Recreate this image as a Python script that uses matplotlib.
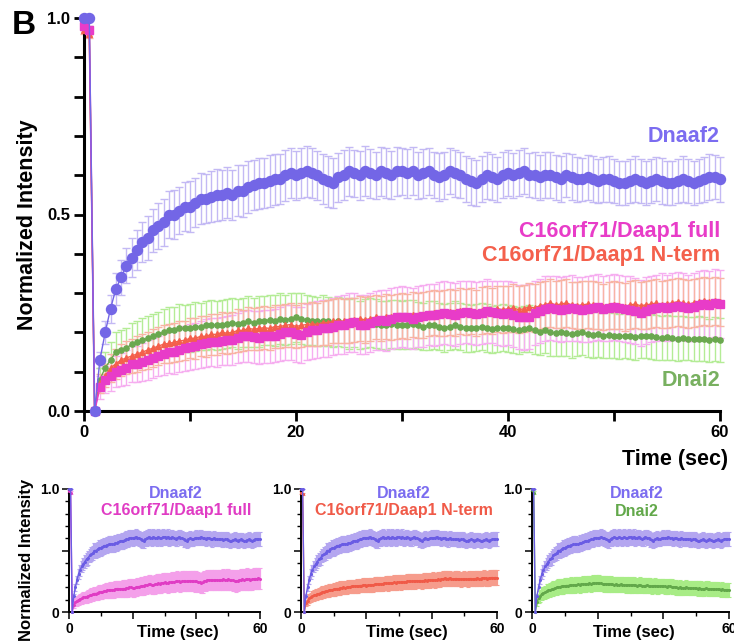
import numpy as np
import matplotlib
matplotlib.use("Agg")
import matplotlib.pyplot as plt
from matplotlib.ticker import FixedLocator

plt.rcParams['font.family'] = ['Liberation Sans', 'DejaVu Sans']
plt.rcParams['font.weight'] = 'bold'

# ---------------- data ----------------
time_sec = np.arange(0, 60.5, 0.5)   # frame times (s)

dnaaf2 = [
    1.00, 1.00, 0.00, 0.13, 0.20, 0.26, 0.31, 0.34, 0.37, 0.39,
    0.41, 0.43, 0.44, 0.46, 0.47, 0.48, 0.50, 0.50, 0.51, 0.52,
    0.52, 0.53, 0.54, 0.54, 0.545, 0.55, 0.55, 0.555, 0.55, 0.56,
    0.56, 0.57, 0.575, 0.58, 0.58, 0.585, 0.59, 0.59, 0.60, 0.605,
    0.60, 0.605, 0.61, 0.605, 0.60, 0.59, 0.585, 0.58, 0.595, 0.60,
    0.61, 0.605, 0.60, 0.61, 0.605, 0.60, 0.61, 0.605, 0.60, 0.61,
    0.61, 0.605, 0.61, 0.60, 0.605, 0.61, 0.60, 0.595, 0.60, 0.61,
    0.605, 0.60, 0.59, 0.585, 0.58, 0.59, 0.60, 0.595, 0.59, 0.60,
    0.605, 0.60, 0.605, 0.61, 0.60, 0.60, 0.595, 0.60, 0.60, 0.595,
    0.59, 0.60, 0.595, 0.59, 0.59, 0.595, 0.59, 0.585, 0.59, 0.59,
    0.585, 0.58, 0.58, 0.585, 0.59, 0.585, 0.58, 0.585, 0.59, 0.585,
    0.58, 0.58, 0.585, 0.59, 0.585, 0.58, 0.585, 0.59, 0.595, 0.595,
    0.59]
dnaaf2_err = [
    0.0, 0.0, 0.0, 0.02, 0.03, 0.035, 0.04, 0.045, 0.045, 0.05,
    0.05, 0.052, 0.055, 0.055, 0.058, 0.06, 0.06, 0.062, 0.06, 0.062,
    0.065, 0.063, 0.065, 0.062, 0.065, 0.066, 0.064, 0.065, 0.063, 0.065,
    0.066, 0.065, 0.063, 0.065, 0.064, 0.066, 0.065, 0.063, 0.065, 0.064,
    0.062, 0.064, 0.065, 0.063, 0.062, 0.064, 0.065, 0.063, 0.062, 0.064,
    0.062, 0.06, 0.062, 0.064, 0.062, 0.06, 0.062, 0.063, 0.061, 0.062,
    0.06, 0.062, 0.061, 0.06, 0.062, 0.06, 0.059, 0.061, 0.06, 0.058,
    0.06, 0.059, 0.058, 0.06, 0.059, 0.058, 0.06, 0.058, 0.057, 0.059,
    0.058, 0.057, 0.059, 0.058, 0.056, 0.058, 0.057, 0.059, 0.058, 0.057,
    0.058, 0.056, 0.058, 0.057, 0.055, 0.057, 0.058, 0.056, 0.057, 0.058,
    0.056, 0.057, 0.055, 0.057, 0.058, 0.056, 0.057, 0.055, 0.056, 0.058,
    0.057, 0.055, 0.057, 0.058, 0.056, 0.057, 0.055, 0.057, 0.058, 0.056,
    0.057]

daap1_full = [
    0.98, 0.97, 0.00, 0.06, 0.08, 0.09, 0.10, 0.105, 0.11, 0.12,
    0.12, 0.125, 0.13, 0.135, 0.14, 0.145, 0.15, 0.15, 0.155, 0.16,
    0.163, 0.165, 0.17, 0.173, 0.175, 0.175, 0.178, 0.18, 0.18, 0.185,
    0.19, 0.19, 0.188, 0.187, 0.19, 0.19, 0.192, 0.195, 0.20, 0.20,
    0.195, 0.193, 0.20, 0.205, 0.207, 0.21, 0.21, 0.215, 0.218, 0.22,
    0.225, 0.226, 0.22, 0.22, 0.225, 0.23, 0.232, 0.23, 0.235, 0.238,
    0.24, 0.238, 0.235, 0.24, 0.242, 0.245, 0.245, 0.248, 0.25, 0.248,
    0.245, 0.25, 0.252, 0.25, 0.248, 0.25, 0.255, 0.252, 0.25, 0.248,
    0.25, 0.245, 0.24, 0.238, 0.24, 0.25, 0.255, 0.26, 0.262, 0.26,
    0.258, 0.26, 0.262, 0.26, 0.258, 0.26, 0.262, 0.265, 0.26, 0.262,
    0.265, 0.262, 0.26, 0.258, 0.255, 0.25, 0.255, 0.26, 0.262, 0.265,
    0.262, 0.265, 0.268, 0.265, 0.262, 0.265, 0.27, 0.272, 0.27, 0.275,
    0.272]
daap1_full_err = [
    0.01, 0.01, 0.0, 0.03, 0.035, 0.038, 0.04, 0.042, 0.044, 0.045,
    0.046, 0.048, 0.05, 0.05, 0.052, 0.053, 0.054, 0.055, 0.056, 0.057,
    0.058, 0.058, 0.06, 0.06, 0.061, 0.062, 0.062, 0.063, 0.064, 0.064,
    0.065, 0.066, 0.066, 0.067, 0.067, 0.068, 0.068, 0.069, 0.07, 0.07,
    0.07, 0.071, 0.071, 0.072, 0.072, 0.072, 0.073, 0.073, 0.074, 0.074,
    0.074, 0.075, 0.075, 0.075, 0.076, 0.076, 0.076, 0.077, 0.077, 0.077,
    0.078, 0.078, 0.077, 0.078, 0.079, 0.078, 0.079, 0.079, 0.08, 0.079,
    0.08, 0.08, 0.079, 0.08, 0.081, 0.08, 0.081, 0.08, 0.081, 0.082,
    0.081, 0.082, 0.081, 0.082, 0.082, 0.081, 0.082, 0.083, 0.082, 0.083,
    0.082, 0.083, 0.083, 0.082, 0.083, 0.084, 0.083, 0.084, 0.083, 0.084,
    0.084, 0.083, 0.084, 0.085, 0.084, 0.084, 0.085, 0.084, 0.085, 0.085,
    0.084, 0.085, 0.086, 0.085, 0.085, 0.086, 0.085, 0.086, 0.085, 0.086,
    0.086]

daap1_nterm = [
    0.97, 0.96, 0.00, 0.07, 0.09, 0.11, 0.12, 0.13, 0.135, 0.14,
    0.145, 0.15, 0.155, 0.16, 0.165, 0.17, 0.172, 0.175, 0.178, 0.18,
    0.185, 0.185, 0.19, 0.19, 0.195, 0.195, 0.20, 0.198, 0.20, 0.205,
    0.205, 0.21, 0.208, 0.21, 0.212, 0.21, 0.215, 0.215, 0.218, 0.22,
    0.215, 0.218, 0.22, 0.222, 0.22, 0.225, 0.225, 0.228, 0.23, 0.228,
    0.23, 0.232, 0.235, 0.232, 0.235, 0.238, 0.235, 0.24, 0.238, 0.24,
    0.242, 0.24, 0.245, 0.243, 0.245, 0.248, 0.25, 0.248, 0.25, 0.252,
    0.25, 0.255, 0.252, 0.255, 0.25, 0.255, 0.258, 0.255, 0.26, 0.258,
    0.26, 0.262, 0.258, 0.26, 0.265, 0.262, 0.268, 0.27, 0.275, 0.27,
    0.272, 0.275, 0.27, 0.268, 0.27, 0.272, 0.27, 0.268, 0.265, 0.268,
    0.27, 0.268, 0.265, 0.27, 0.272, 0.268, 0.27, 0.272, 0.275, 0.27,
    0.272, 0.275, 0.278, 0.275, 0.272, 0.275, 0.278, 0.28, 0.278, 0.28,
    0.278]
daap1_nterm_err = [
    0.01, 0.01, 0.0, 0.025, 0.03, 0.035, 0.038, 0.04, 0.042, 0.044,
    0.045, 0.046, 0.047, 0.048, 0.048, 0.049, 0.05, 0.05, 0.051, 0.05,
    0.051, 0.052, 0.051, 0.052, 0.053, 0.052, 0.053, 0.052, 0.053, 0.054,
    0.053, 0.054, 0.053, 0.054, 0.055, 0.054, 0.055, 0.054, 0.055, 0.056,
    0.055, 0.056, 0.055, 0.056, 0.055, 0.056, 0.057, 0.056, 0.057, 0.056,
    0.057, 0.056, 0.057, 0.058, 0.057, 0.056, 0.057, 0.058, 0.057, 0.058,
    0.057, 0.058, 0.057, 0.058, 0.059, 0.058, 0.057, 0.058, 0.059, 0.058,
    0.059, 0.058, 0.059, 0.058, 0.059, 0.06, 0.059, 0.058, 0.059, 0.06,
    0.059, 0.06, 0.059, 0.06, 0.061, 0.06, 0.059, 0.06, 0.061, 0.06,
    0.061, 0.06, 0.059, 0.06, 0.061, 0.06, 0.061, 0.06, 0.059, 0.06,
    0.061, 0.06, 0.061, 0.062, 0.061, 0.06, 0.061, 0.062, 0.061, 0.06,
    0.061, 0.062, 0.061, 0.06, 0.061, 0.062, 0.061, 0.062, 0.061, 0.062,
    0.061]

dnai2 = [
    0.99, 0.97, 0.00, 0.08, 0.11, 0.13, 0.15, 0.155, 0.16, 0.17,
    0.175, 0.18, 0.185, 0.19, 0.195, 0.20, 0.205, 0.205, 0.21, 0.21,
    0.212, 0.215, 0.215, 0.218, 0.22, 0.218, 0.22, 0.222, 0.225, 0.222,
    0.225, 0.228, 0.225, 0.228, 0.23, 0.232, 0.23, 0.235, 0.232, 0.235,
    0.238, 0.235, 0.232, 0.23, 0.228, 0.23, 0.228, 0.225, 0.228, 0.225,
    0.222, 0.225, 0.22, 0.222, 0.225, 0.222, 0.22, 0.218, 0.222, 0.22,
    0.218, 0.22, 0.222, 0.218, 0.215, 0.218, 0.22, 0.215, 0.212, 0.215,
    0.218, 0.215, 0.212, 0.21, 0.212, 0.215, 0.21, 0.208, 0.21, 0.212,
    0.21, 0.208, 0.205, 0.208, 0.21, 0.205, 0.202, 0.205, 0.20, 0.198,
    0.20, 0.198, 0.195, 0.198, 0.20, 0.196, 0.194, 0.196, 0.192, 0.194,
    0.192, 0.19, 0.192, 0.19, 0.188, 0.19, 0.192, 0.19, 0.188, 0.186,
    0.188, 0.186, 0.184, 0.186, 0.184, 0.182, 0.184, 0.182, 0.18, 0.182,
    0.18]
dnai2_err = [
    0.01, 0.01, 0.0, 0.03, 0.04, 0.045, 0.05, 0.05, 0.052, 0.055,
    0.055, 0.056, 0.057, 0.058, 0.058, 0.059, 0.06, 0.06, 0.061, 0.06,
    0.061, 0.062, 0.061, 0.062, 0.063, 0.062, 0.063, 0.062, 0.063, 0.064,
    0.063, 0.064, 0.063, 0.064, 0.063, 0.064, 0.065, 0.064, 0.063, 0.064,
    0.063, 0.064, 0.063, 0.062, 0.063, 0.064, 0.063, 0.062, 0.063, 0.062,
    0.063, 0.062, 0.061, 0.062, 0.063, 0.062, 0.061, 0.062, 0.061, 0.062,
    0.061, 0.062, 0.061, 0.06, 0.061, 0.062, 0.061, 0.06, 0.061, 0.06,
    0.061, 0.06, 0.061, 0.06, 0.059, 0.06, 0.061, 0.06, 0.059, 0.06,
    0.059, 0.06, 0.059, 0.058, 0.059, 0.06, 0.059, 0.058, 0.059, 0.058,
    0.059, 0.058, 0.059, 0.058, 0.057, 0.058, 0.059, 0.058, 0.057, 0.058,
    0.057, 0.058, 0.057, 0.058, 0.057, 0.056, 0.057, 0.058, 0.057, 0.056,
    0.057, 0.056, 0.057, 0.056, 0.055, 0.056, 0.057, 0.056, 0.055, 0.056,
    0.056]

series_names = ["Dnaaf2", "C16orf71/Daap1 full", "C16orf71/Daap1 N-term", "Dnai2"]
main_yticks = [0.0, 0.1, 0.2, 0.3, 0.4, 0.5, 0.6, 0.7, 0.8, 0.9, 1.0]
main_yticklabels = ["0.0", "", "", "", "", "0.5", "", "", "", "", "1.0"]
main_xticks = [0, 10, 20, 30, 40, 50, 60]
main_xticklabels = ["0", "", "20", "", "40", "", "60"]
small_yticks_major = [0.0, 0.5, 1.0]
small_yticklabels = ["0", "", "1.0"]
small_yticks_minor = [0.1, 0.2, 0.3, 0.4, 0.6, 0.7, 0.8, 0.9]
small_xticks_major = [0, 20, 40, 60]
small_xticklabels = ["0", "", "", "60"]
small_xticks_minor = [10, 30, 50]

# ---------------- colours ----------------
C_BLUE, C_BLUE_L, C_BLUE_T = "#7366e6", "#c3b9f4", "#7b6cf0"
C_MAG, C_MAG_L = "#e83cc8", "#f6aef0"
C_RED, C_RED_L = "#f4604c", "#f8b4a4"
C_GRN, C_GRN_L, C_GRN_T = "#6aa84f", "#b4ec96", "#78b060"

W, H = 734, 643
fig = plt.figure(figsize=(W / 100, H / 100), dpi=100)


def fx(px):
    return px / W


def fy(py):
    return 1 - py / H


# ---------------- main panel ----------------
ax = fig.add_axes([fx(84), fy(411), (720 - 84) / W, (411 - 18) / H])

ax.errorbar(time_sec, dnaaf2, yerr=dnaaf2_err, fmt='none', ecolor=C_BLUE_L,
            elinewidth=1.0, capsize=3, capthick=1.0, zorder=2, clip_on=False)
ax.errorbar(time_sec, dnai2, yerr=dnai2_err, fmt='none', ecolor=C_GRN_L,
            elinewidth=1.0, capsize=3, capthick=1.0, zorder=2, clip_on=False)
ax.errorbar(time_sec, daap1_full, yerr=daap1_full_err, fmt='none', ecolor=C_MAG_L,
            elinewidth=1.0, capsize=3, capthick=1.0, zorder=2, clip_on=False)
ax.errorbar(time_sec, daap1_nterm, yerr=daap1_nterm_err, fmt='none', ecolor=C_RED_L,
            elinewidth=1.0, capsize=3, capthick=1.0, zorder=2, clip_on=False)

ax.plot(time_sec, dnai2, color=C_GRN, marker='o', ms=3.8, lw=1.0, zorder=5, clip_on=False)
ax.plot(time_sec, daap1_nterm, color=C_RED, marker='^', ms=3.8, lw=1.0, zorder=6, clip_on=False)
ax.plot(time_sec, daap1_full, color=C_MAG, marker='s', ms=5.2, lw=1.2, zorder=7, clip_on=False)
ax.plot(time_sec, dnaaf2, color=C_BLUE, marker='o', ms=7.2, lw=1.0, zorder=8, clip_on=False)

ax.set_xlim(0, 60)
ax.set_ylim(0, 1.0)
for s in ['top', 'right']:
    ax.spines[s].set_visible(False)
for s in ['left', 'bottom']:
    ax.spines[s].set_linewidth(2.2)
ax.set_yticks(main_yticks)
ax.set_yticklabels(main_yticklabels)
ax.set_xticks(main_xticks)
ax.set_xticklabels(main_xticklabels)
ax.tick_params(axis='both', direction='out', length=7, width=2, labelsize=12, pad=3)
for lab in ax.get_xticklabels() + ax.get_yticklabels():
    lab.set_fontweight('bold')

fig.text(fx(28), fy(225), "Normalized Intensity", rotation=90, ha='center', va='center',
         fontsize=15.5, fontweight='bold')
fig.text(fx(728), fy(460), "Time (sec)", ha='right', va='center', fontsize=15.5, fontweight='bold')
fig.text(fx(12), fy(25), "B", ha='left', va='center', fontsize=24, fontweight='bold')

fig.text(fx(720), fy(137), series_names[0], ha='right', va='center', fontsize=15.5,
         fontweight='bold', color=C_BLUE_T)
fig.text(fx(720), fy(232), series_names[1], ha='right', va='center', fontsize=15.5,
         fontweight='bold', color=C_MAG)
fig.text(fx(720), fy(256), series_names[2], ha='right', va='center', fontsize=15.5,
         fontweight='bold', color=C_RED)
fig.text(fx(720), fy(380), series_names[3], ha='right', va='center', fontsize=15.5,
         fontweight='bold', color=C_GRN_T)

# ---------------- small panels ----------------
panels = [
    (69, 260, daap1_full, daap1_full_err, "#e03cc4", "#f4a0ea", series_names[1], 176, 178),
    (301, 497, daap1_nterm, daap1_nterm_err, "#f05a48", "#f69c8c", series_names[2], 404, 407),
    (532, 729, dnai2, dnai2_err, "#62a84a", "#a8ec86", series_names[3], 637, 634),
]
for i, (x0, x1, ys, es, col, colL, name, lx, tx) in enumerate(panels):
    a = fig.add_axes([fx(x0), fy(612), (x1 - x0) / W, (612 - 489) / H])
    a.errorbar(time_sec, dnaaf2, yerr=dnaaf2_err, fmt='none', ecolor="#b4a6f0",
               elinewidth=1.6, capsize=1.2, capthick=0.8, zorder=2, clip_on=False)
    a.errorbar(time_sec, ys, yerr=es, fmt='none', ecolor=colL,
               elinewidth=1.6, capsize=1.2, capthick=0.8, zorder=2, clip_on=False)
    a.plot(time_sec, ys, color=col, marker='o', ms=1.2, lw=1.0, zorder=4, clip_on=False)
    a.plot(time_sec, dnaaf2, color="#6a5ce4", marker='o', ms=1.2, lw=1.0, zorder=5, clip_on=False)
    a.set_xlim(0, 60)
    a.set_ylim(0, 1.0)
    for s in ['top', 'right']:
        a.spines[s].set_visible(False)
    for s in ['left', 'bottom']:
        a.spines[s].set_linewidth(1.4)
    a.set_yticks(small_yticks_major)
    a.set_yticklabels(small_yticklabels)
    a.yaxis.set_minor_locator(FixedLocator(small_yticks_minor))
    a.set_xticks(small_xticks_major)
    a.set_xticklabels(small_xticklabels)
    a.xaxis.set_minor_locator(FixedLocator(small_xticks_minor))
    a.tick_params(axis='both', which='major', direction='out', length=5, width=1.1,
                  labelsize=10, pad=2)
    a.tick_params(axis='both', which='minor', direction='out', length=3, width=1.0)
    for lab in a.get_xticklabels() + a.get_yticklabels():
        lab.set_fontweight('bold')
    fig.text(fx(lx), fy(493), series_names[0], ha='center', va='center', fontsize=11.5,
             fontweight='bold', color=C_BLUE_T)
    fig.text(fx(lx), fy(511), name, ha='center', va='center', fontsize=11.5,
             fontweight='bold', color=col)
    fig.text(fx(tx), fy(632), "Time (sec)", ha='center', va='center', fontsize=12,
             fontweight='bold')

fig.text(fx(27), fy(560), "Normalized Intensity", rotation=90, ha='center', va='center',
         fontsize=12, fontweight='bold')

fig.savefig("out.png", dpi=100)
